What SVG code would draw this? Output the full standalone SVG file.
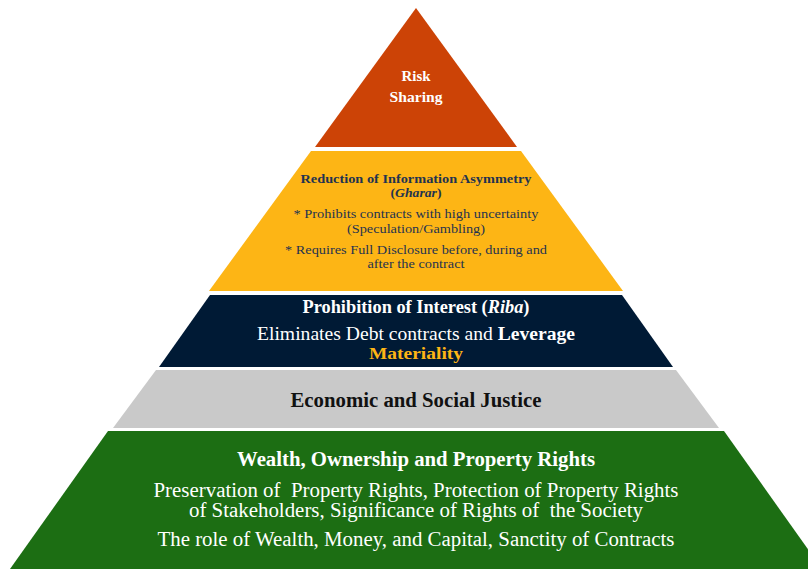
<svg xmlns="http://www.w3.org/2000/svg" width="808" height="569" viewBox="0 0 808 569">
<style>
text{font-family:"Liberation Serif","Times New Roman",serif;text-anchor:middle;white-space:pre}
.b{font-weight:bold}
.w{fill:#ffffff}
.o{fill:#1f3350;font-size:13px}
</style>
<rect width="808" height="569" fill="#ffffff"/>
<g id="risk-sharing">
<polygon points="416,8 517,147 315,147" fill="#cc4306"/>
<text class="b w" x="416" y="81" font-size="15" textLength="29" lengthAdjust="spacingAndGlyphs">Risk</text>
<text class="b w" x="416" y="102" font-size="15" textLength="53" lengthAdjust="spacingAndGlyphs">Sharing</text>
</g>
<g id="gharar">
<polygon points="311,151 521,151 623,291 209,291" fill="#fdb515"/>
<text class="b o" x="416" y="182.5" textLength="231" lengthAdjust="spacingAndGlyphs">Reduction of Information Asymmetry</text>
<text class="b o" x="416" y="197" textLength="51" lengthAdjust="spacingAndGlyphs">(<tspan font-style="italic">Gharar</tspan>)</text>
<text class="o" x="416" y="218" textLength="245" lengthAdjust="spacingAndGlyphs">* Prohibits contracts with high uncertainty</text>
<text class="o" x="416" y="232.5" textLength="138" lengthAdjust="spacingAndGlyphs">(Speculation/Gambling)</text>
<text class="o" x="416" y="253.5" textLength="262" lengthAdjust="spacingAndGlyphs">* Requires Full Disclosure before, during and</text>
<text class="o" x="416" y="268" textLength="97" lengthAdjust="spacingAndGlyphs">after the contract</text>
</g>
<g id="riba">
<polygon points="210,295 622,295 673,367 159,367" fill="#001a35"/>
<text class="b w" x="416" y="313" font-size="18" textLength="227" lengthAdjust="spacingAndGlyphs">Prohibition of Interest (<tspan font-style="italic">Riba</tspan>)</text>
<text class="w" x="416" y="340" font-size="18.5" textLength="318" lengthAdjust="spacingAndGlyphs">Eliminates Debt contracts and <tspan font-weight="bold">Leverage</tspan></text>
<text class="b" x="416" y="359" font-size="16.5" fill="#fdb515" textLength="94" lengthAdjust="spacingAndGlyphs">Materiality</text>
</g>
<g id="justice">
<polygon points="156,370 676,370 719,428 113,428" fill="#c9c9c9"/>
<text class="b" x="416" y="407" font-size="20" fill="#111111" textLength="251" lengthAdjust="spacingAndGlyphs">Economic and Social Justice</text>
</g>
<g id="wealth">
<polygon points="108,431 724,431 822,569 10,569" fill="#1c6e13"/>
<text class="b w" x="416" y="466" font-size="20" textLength="358" lengthAdjust="spacingAndGlyphs">Wealth, Ownership and Property Rights</text>
<text class="w" x="416" y="497" font-size="20" textLength="525" lengthAdjust="spacingAndGlyphs">Preservation of  Property Rights, Protection of Property Rights</text>
<text class="w" x="416" y="517" font-size="20" textLength="454" lengthAdjust="spacingAndGlyphs">of Stakeholders, Significance of Rights of  the Society</text>
<text class="w" x="416" y="546" font-size="20" textLength="517" lengthAdjust="spacingAndGlyphs">The role of Wealth, Money, and Capital, Sanctity of Contracts</text>
</g>
<g id="connectors"></g>
</svg>
